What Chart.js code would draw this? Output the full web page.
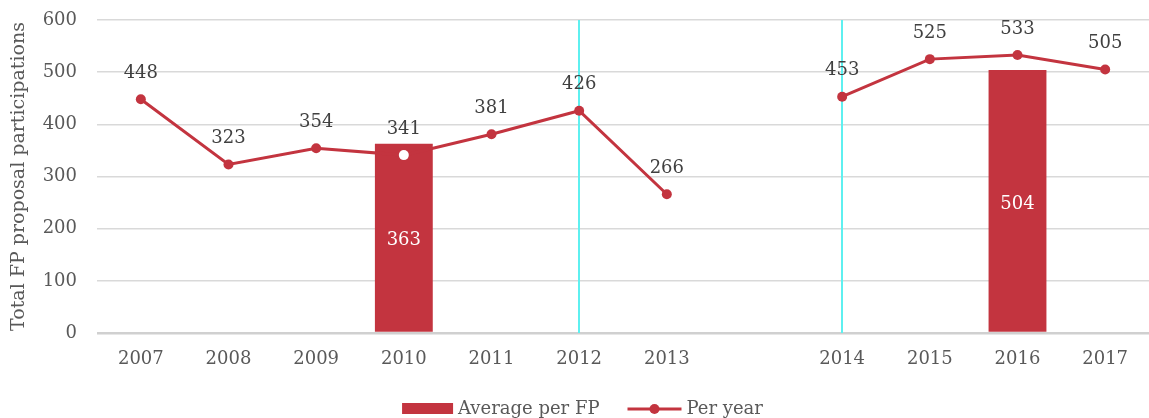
<!DOCTYPE html>
<html>
<head>
<meta charset="utf-8">
<script src="https://cdn.jsdelivr.net/npm/chart.js@4/dist/chart.umd.min.js"></script>
<style>
html,body{margin:0;padding:0;background:#fff;}
#wrap{width:1149px;height:418px;position:relative;}
</style>
</head>
<body>
<div id="wrap"><canvas id="c" width="1149" height="418"></canvas></div>
<script>
const categories = ['2007','2008','2009','2010','2011','2012','2013','','2014','2015','2016','2017'];
const perYear = [448,323,354,341,381,426,266,null,453,525,533,505];
const averagePerFP = [null,null,null,363,null,null,null,null,null,null,504,null];
const fpBoundaries = ['2012','2014'];
const yTicks = [0,100,200,300,400,500,600];

const RED = '#c3343f';
const FONT = '"DejaVu Serif", Georgia, serif';

const labelsPlugin = {
  id: 'customLabels',
  beforeDatasetsDraw(chart) {
    const ctx = chart.ctx, x = chart.scales.x, a = chart.chartArea;
    ctx.save();
    ctx.strokeStyle = '#5ef0f0';
    ctx.lineWidth = 2;
    fpBoundaries.forEach(c => {
      const px = Math.round(x.getPixelForValue(categories.indexOf(c)));
      ctx.beginPath(); ctx.moveTo(px, a.top); ctx.lineTo(px, a.bottom); ctx.stroke();
    });
    ctx.restore();
  },
  afterDatasetsDraw(chart) {
    const ctx = chart.ctx;
    ctx.save();
    ctx.font = '18px ' + FONT;
    ctx.textAlign = 'center';
    ctx.textBaseline = 'middle';
    const barMeta = chart.getDatasetMeta(0);
    barMeta.data.forEach((el, i) => {
      const v = averagePerFP[i];
      if (v == null) return;
      ctx.fillStyle = '#ffffff';
      ctx.fillText(String(v), el.x, (el.y + el.base) / 2 + 3);
    });
    const lineMeta = chart.getDatasetMeta(1);
    lineMeta.data.forEach((el, i) => {
      const v = perYear[i];
      if (v == null) return;
      ctx.fillStyle = '#404040';
      ctx.fillText(String(v), el.x, el.y - 26);
    });
    ctx.restore();
  },
  afterDraw(chart) {
    const ctx = chart.ctx;
    ctx.save();
    ctx.font = '18px ' + FONT;
    ctx.textBaseline = 'middle';
    const t1 = 'Average per FP', t2 = 'Per year';
    const w1 = ctx.measureText(t1).width, w2 = ctx.measureText(t2).width;
    const total = 51 + 5 + w1 + 28 + 54 + 5 + w2;
    let x0 = chart.width / 2 + 8 - total / 2;
    const y = 409;
    ctx.fillStyle = RED;
    ctx.fillRect(x0, y - 6, 51, 11);
    x0 += 56;
    ctx.fillStyle = '#595959';
    ctx.fillText(t1, x0, y);
    x0 += w1 + 28;
    ctx.strokeStyle = RED; ctx.lineWidth = 3;
    ctx.beginPath(); ctx.moveTo(x0, y); ctx.lineTo(x0 + 54, y); ctx.stroke();
    ctx.fillStyle = RED;
    ctx.beginPath(); ctx.arc(x0 + 27, y, 5, 0, Math.PI * 2); ctx.fill();
    x0 += 59;
    ctx.fillStyle = '#595959';
    ctx.fillText(t2, x0, y);
    ctx.restore();
  }
};

new Chart(document.getElementById('c'), {
  type: 'bar',
  data: {
    labels: categories,
    datasets: [
      {
        type: 'bar',
        label: 'Average per FP',
        data: averagePerFP,
        backgroundColor: RED,
        barPercentage: 0.66,
        categoryPercentage: 1.0,
        order: 2
      },
      {
        type: 'line',
        label: 'Per year',
        data: perYear,
        borderColor: RED,
        borderWidth: 3,
        pointRadius: 5,
        pointHoverRadius: 5,
        pointBackgroundColor: perYear.map((v, i) => (averagePerFP[i] != null && v < averagePerFP[i]) ? '#ffffff' : RED),
        pointBorderWidth: 0,
        spanGaps: false,
        tension: 0,
        order: 1
      }
    ]
  },
  options: {
    responsive: false,
    animation: false,
    layout: { autoPadding: false, padding: { top: 20, right: 0, bottom: 0, left: 0 } },
    plugins: { legend: { display: false }, tooltip: { enabled: false } },
    scales: {
      x: {
        grid: { display: false, drawTicks: false },
        border: { display: false },
        ticks: { color: '#595959', font: { family: FONT, size: 18 }, padding: 16, maxRotation: 0, autoSkip: false },
        afterFit(s) { s.height = 85; s.paddingLeft = 0; s.paddingRight = 0; }
      },
      y: {
        min: 0, max: 600,
        afterBuildTicks(s) { s.ticks = yTicks.map(v => ({ value: v })); },
        grid: {
          color: ctx => ctx.tick && ctx.tick.value === 0 ? '#d0d0d0' : '#d9d9d9',
          lineWidth: ctx => ctx.tick && ctx.tick.value === 0 ? 2.5 : 1.5,
          drawTicks: false
        },
        border: { display: false },
        ticks: { color: '#595959', font: { family: FONT, size: 18 }, padding: 20 },
        title: { display: true, text: 'Total FP proposal participations', color: '#595959', font: { family: FONT, size: 19 }, padding: { top: 8, bottom: 4 } },
        afterFit(s) { s.width = 97; s.paddingTop = 0; s.paddingBottom = 0; }
      }
    }
  },
  plugins: [labelsPlugin]
});
</script>
</body>
</html>
